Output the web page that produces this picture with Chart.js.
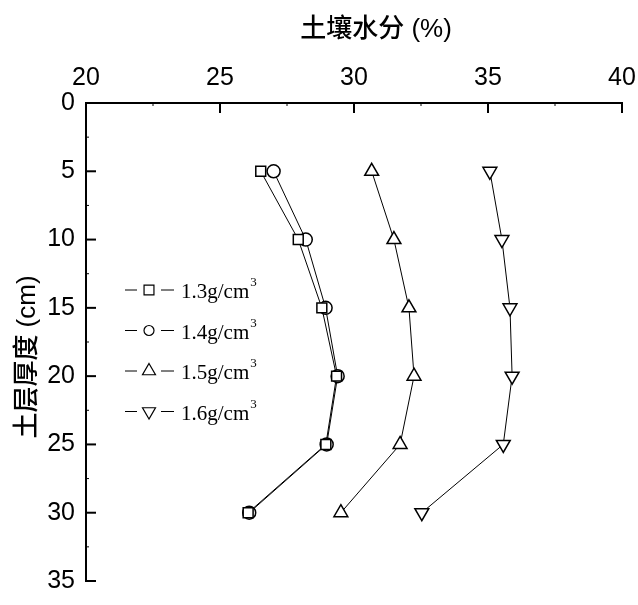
<!DOCTYPE html>
<html>
<head>
<meta charset="utf-8">
<script src="https://cdn.jsdelivr.net/npm/chart.js@4.4.1/dist/chart.umd.min.js"></script>
<style>
  html, body { margin: 0; padding: 0; background: #fff; }
  #wrap { width: 638px; height: 605px; }
</style>
</head>
<body>
<div id="wrap"><canvas id="soilChart" width="638" height="605"></canvas></div>
<script>
// DADOS

const depth = [5, 10, 15, 20, 25, 30];

const moisture13 = [26.52, 27.92, 28.8, 29.35, 28.95, 26.05];
const moisture14 = [27.0, 28.2, 28.94, 29.39, 28.98, 26.09];
const moisture15 = [30.66, 31.49, 32.05, 32.24, 31.72, 29.51];
const moisture16 = [35.07, 35.52, 35.82, 35.9, 35.57, 32.53];

const seriesLabels = ['1.3g/cm³', '1.4g/cm³', '1.5g/cm³', '1.6g/cm³'];
const markers = ['rect', 'circle', 'triangle', 'triangle'];
const markerRotation = [0, 0, 0, 180];

const xTitle = '土壤水分 (%)';
const yTitle = '土层厚度 (cm)';

const tickFont = '"Liberation Sans", Arial, sans-serif';

function points(values) {
    return values.map((v, i) => ({ x: v, y: depth[i] }));
}

const allSeries = [moisture13, moisture14, moisture15, moisture16];

const datasets = allSeries.map((values, i) => ({
    label: seriesLabels[i],
    data: points(values),
    showLine: true,
    borderColor: '#000',
    borderWidth: 1,
    pointStyle: markers[i],
    rotation: markerRotation[i],
    pointRadius: i === 0 ? 7 : (i === 1 ? 6.5 : 8),
    pointBorderWidth: 1.5,
    pointBorderColor: '#000',
    pointBackgroundColor: '#fff'
}));

// EIXOS, TITULOS E LEGENDA

const legendRadius = { rect: 7, circle: 5, triangle: 7.5 };

const decorPlugin = {
    id: 'decor',
    afterDraw(chart) {
        const ctx = chart.ctx;
        const area = chart.chartArea;
        const xs = chart.scales.x;
        const ys = chart.scales.y;

        ctx.save();
        ctx.strokeStyle = '#000';

        // ticks para dentro
        for (let v = 20; v <= 40; v += 2.5) {
            const px = xs.getPixelForValue(v);
            const major = v % 5 === 0;
            ctx.lineWidth = major ? 2 : 1;
            ctx.beginPath();
            ctx.moveTo(px, area.top);
            ctx.lineTo(px, area.top + (major ? 10 : 3));
            ctx.stroke();
        }
        for (let v = 0; v <= 35; v += 2.5) {
            const py = ys.getPixelForValue(v);
            const major = v % 5 === 0;
            ctx.lineWidth = major ? 2 : 1;
            ctx.beginPath();
            ctx.moveTo(area.left, py);
            ctx.lineTo(area.left + (major ? 10 : 3), py);
            ctx.stroke();
        }

        // titulos
        ctx.fillStyle = '#000';
        ctx.font = '500 26px "Liberation Sans", "Noto Sans CJK SC", sans-serif';
        ctx.textAlign = 'center';
        ctx.textBaseline = 'middle';
        ctx.fillText(xTitle, (area.left + area.right) / 2 + 22, 30);

        ctx.save();
        ctx.translate(28, (area.top + area.bottom) / 2 + 15);
        ctx.rotate(-Math.PI / 2);
        ctx.fillText(yTitle, 0, 0);
        ctx.restore();

        // legenda
        const lx = area.left + 39;
        const ly = area.top + 187;
        chart.data.datasets.forEach((ds, i) => {
            const y = ly + i * 40.5;
            ctx.strokeStyle = '#000';
            ctx.lineWidth = 1;
            ctx.beginPath();
            ctx.moveTo(lx, y);
            ctx.lineTo(lx + 12, y);
            ctx.moveTo(lx + 36, y);
            ctx.lineTo(lx + 49, y);
            ctx.stroke();

            ctx.fillStyle = '#fff';
            ctx.lineWidth = 1.2;
            Chart.helpers.drawPoint(ctx, {
                pointStyle: ds.pointStyle,
                rotation: ds.rotation,
                radius: legendRadius[ds.pointStyle],
                borderWidth: 1.2
            }, lx + 24, y);

            const main = ds.label.replace('³', '');
            ctx.fillStyle = '#000';
            ctx.textAlign = 'left';
            ctx.textBaseline = 'alphabetic';
            ctx.font = '21px "Liberation Serif", "Times New Roman", serif';
            ctx.fillText(main, lx + 56, y + 8);
            const w = ctx.measureText(main).width;
            ctx.font = '13px "Liberation Serif", "Times New Roman", serif';
            ctx.fillText('3', lx + 57 + w, y - 4);
        });

        ctx.restore();
    }
};

// GRAFICO

const soilChart = new Chart(document.getElementById('soilChart'), {
    type: 'scatter',
    data: { datasets: datasets },
    options: {
        responsive: false,
        animation: false,
        devicePixelRatio: 1,
        layout: {
            padding: 0
        },
        plugins: {
            legend: { display: false },
            tooltip: { enabled: false }
        },
        scales: {
            x: {
                type: 'linear',
                position: 'top',
                min: 20,
                max: 40,
                afterFit: (scale) => {
                    scale.height = 103;
                    scale.paddingLeft = 0;
                    scale.paddingRight = 16;
                },
                ticks: {
                    stepSize: 5,
                    color: '#000',
                    padding: 10,
                    font: { family: tickFont, size: 25 }
                },
                grid: { display: true, drawOnChartArea: false, drawTicks: false },
                border: { display: true, color: '#000', width: 2 }
            },
            y: {
                type: 'linear',
                reverse: true,
                min: 0,
                max: 35,
                afterFit: (scale) => {
                    scale.width = 86;
                    scale.paddingTop = 0;
                    scale.paddingBottom = 24;
                },
                ticks: {
                    stepSize: 5,
                    color: '#000',
                    padding: 11,
                    font: { family: tickFont, size: 25 }
                },
                grid: { display: true, drawOnChartArea: false, drawTicks: false },
                border: { display: true, color: '#000', width: 2 }
            }
        }
    },
    plugins: [decorPlugin]
});
</script>
</body>
</html>
